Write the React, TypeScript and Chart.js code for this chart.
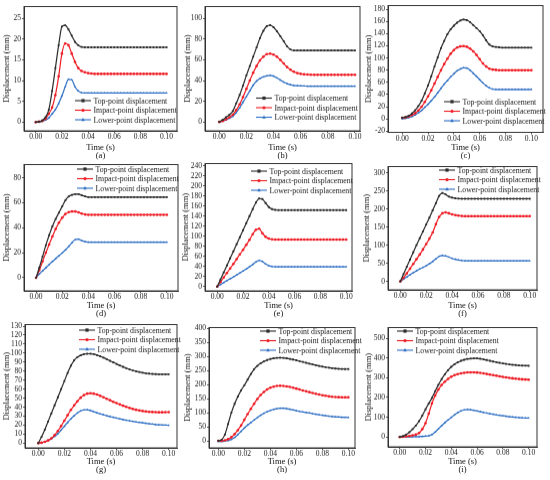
import React, { useEffect, useRef } from 'react';
import { Chart, registerables } from 'chart.js';

Chart.register(...registerables);

const FONT = '"Liberation Serif", "Times New Roman", serif';

// ---------- data ----------
const TIME = [
  0, 0.0025, 0.005, 0.0075, 0.01, 0.0125, 0.015, 0.0175, 0.02, 0.0225,
  0.025, 0.0275, 0.03, 0.0325, 0.035, 0.0375, 0.04, 0.0425, 0.045, 0.0475,
  0.05, 0.0525, 0.055, 0.0575, 0.06, 0.0625, 0.065, 0.0675, 0.07, 0.0725,
  0.075, 0.0775, 0.08, 0.0825, 0.085, 0.0875, 0.09, 0.0925, 0.095, 0.0975,
  0.1,
];

const SERIES_NAMES = ['Top-point displacement', 'Impact-point displacement', 'Lower-point displacement'];
const PANEL_LABELS = ['(a)', '(b)', '(c)', '(d)', '(e)', '(f)', '(g)', '(h)', '(i)'];
const X_TICKS = [0, 0.02, 0.04, 0.06, 0.08, 0.1];
const X_TITLE = 'Time (s)';
const Y_TITLE = 'Displacement (mm)';

const A_TOP = [
  0, 0.1, 0.4, 1.2, 3, 7.5, 13, 18.5, 23, 23.3,
  22.3, 20.8, 19.3, 18.5, 18.1, 18, 18, 18, 18, 18,
  18, 18, 18, 18, 18, 18, 18, 18, 18, 18,
  18, 18, 18, 18, 18, 18, 18, 18, 18, 18,
  18,
];
const A_IMPACT = [
  0, 0.1, 0.3, 0.8, 2, 3.5, 6.5, 11, 16.5, 18.9,
  18.5, 16.5, 14.5, 13, 12.3, 12, 11.8, 11.7, 11.6, 11.6,
  11.6, 11.6, 11.6, 11.6, 11.6, 11.6, 11.6, 11.6, 11.6, 11.6,
  11.6, 11.6, 11.6, 11.6, 11.6, 11.6, 11.6, 11.6, 11.6, 11.6,
  11.6,
];
const A_LOWER = [
  0, 0.1, 0.2, 0.5, 1, 2, 3, 4.5, 6.3, 8.5,
  10.3, 10.2, 8.5, 7.5, 7.1, 7, 7, 7, 7, 7,
  7, 7, 7, 7, 7, 7, 7, 7, 7, 7,
  7, 7, 7, 7, 7, 7, 7, 7, 7, 7,
  7,
];
const A_YTICKS = [0, 5, 10, 15, 20, 25];

const B_TOP = [
  0, 2, 4.5, 7, 10.5, 18, 26, 35, 45, 54,
  63, 72, 81, 88, 92.5, 93.5, 91.5, 87.5, 83, 78,
  73, 70, 69, 69, 69, 69, 69, 69, 69, 69,
  69, 69, 69, 69, 69, 69, 69, 69, 69, 69,
  69,
];
const B_IMPACT = [
  0, 1, 2.5, 4.5, 7, 11.5, 17, 24, 32, 40,
  47.5, 54, 59.5, 63, 65.5, 66, 65, 63, 60, 56.5,
  53, 50.5, 48.5, 47.2, 46.5, 46, 45.8, 45.6, 45.5, 45.5,
  45.5, 45.5, 45.5, 45.5, 45.5, 45.5, 45.5, 45.5, 45.5, 45.5,
  45.5,
];
const B_LOWER = [
  0, 0.8, 2, 3.5, 5.5, 9, 13.5, 19, 24.5, 30,
  35.5, 39.5, 42, 43.5, 44.5, 45, 44.3, 42.5, 40.5, 38.5,
  37, 36, 35.3, 35, 34.8, 34.7, 34.6, 34.6, 34.6, 34.6,
  34.6, 34.6, 34.6, 34.6, 34.6, 34.6, 34.6, 34.6, 34.6, 34.6,
  34.6,
];
const B_YTICKS = [0, 20, 40, 60, 80, 100];

const C_TOP = [
  2, 3, 5, 9, 14, 21, 30, 42, 55, 70,
  86, 101, 116, 128, 139, 147, 153, 158, 161.5, 163,
  162, 159, 154, 149, 144, 137, 129, 122, 119, 118,
  117.5, 117, 117, 117, 117, 117, 117, 117, 117, 117,
  117,
];
const C_IMPACT = [
  2, 2.5, 4, 6.5, 9.5, 14, 20, 28, 37, 47,
  58, 69, 80, 90, 99, 107, 113, 117, 119, 119.5,
  118.5, 115.5, 111, 105, 98, 91, 86, 82.5, 81, 80.5,
  80, 80, 80, 80, 80, 80, 80, 80, 80, 80,
  80,
];
const C_LOWER = [
  0, 1, 2, 4, 6.5, 10, 14, 19, 24, 30,
  36, 43, 50, 57, 63, 69, 74, 79, 82, 84,
  83.5, 80, 75, 70, 64.5, 59, 54.5, 51, 49, 48.5,
  48.5, 48.5, 48.5, 48.5, 48.5, 48.5, 48.5, 48.5, 48.5, 48.5,
  48.5,
];
const C_YTICKS = [-20, 0, 20, 40, 60, 80, 100, 120, 140, 160, 180];

const D_TOP = [
  0, 8, 17, 26, 34, 41, 47, 52, 57, 62,
  65, 66.3, 66.8, 66.8, 65.8, 65, 64.5, 64.5, 64.5, 64.5,
  64.5, 64.5, 64.5, 64.5, 64.5, 64.5, 64.5, 64.5, 64.5, 64.5,
  64.5, 64.5, 64.5, 64.5, 64.5, 64.5, 64.5, 64.5, 64.5, 64.5,
  64.5,
];
const D_IMPACT = [
  0, 6, 13, 20, 26.5, 33, 39, 44, 48, 51,
  52.5, 53, 53, 52.3, 51.3, 50.6, 50.3, 50.3, 50.3, 50.3,
  50.3, 50.3, 50.3, 50.3, 50.3, 50.3, 50.3, 50.3, 50.3, 50.3,
  50.3, 50.3, 50.3, 50.3, 50.3, 50.3, 50.3, 50.3, 50.3, 50.3,
  50.3,
];
const D_LOWER = [
  0, 3, 5.5, 8, 10.5, 13, 15.3, 17.5, 19.8, 22.3,
  25, 28, 30.5, 30.8, 29.6, 28.8, 28.5, 28.5, 28.5, 28.5,
  28.5, 28.5, 28.5, 28.5, 28.5, 28.5, 28.5, 28.5, 28.5, 28.5,
  28.5, 28.5, 28.5, 28.5, 28.5, 28.5, 28.5, 28.5, 28.5, 28.5,
  28.5,
];
const D_YTICKS = [0, 20, 40, 60, 80];

const E_TOP = [
  0, 14, 28, 42, 56, 70, 84, 98, 112, 126,
  140, 154, 167, 175, 174, 166, 158, 154, 152.5, 152,
  152, 152, 152, 152, 152, 152, 152, 152, 152, 152,
  152, 152, 152, 152, 152, 152, 152, 152, 152, 152,
  152,
];
const E_IMPACT = [
  0, 9, 18, 27, 36, 45, 54.5, 64, 73, 83,
  93, 104, 113, 115, 106, 99, 95.5, 94, 93.5, 93.5,
  93.5, 93.5, 93.5, 93.5, 93.5, 93.5, 93.5, 93.5, 93.5, 93.5,
  93.5, 93.5, 93.5, 93.5, 93.5, 93.5, 93.5, 93.5, 93.5, 93.5,
  93.5,
];
const E_LOWER = [
  0, 4, 8, 12, 15.5, 19, 23, 27, 31, 35,
  39.5, 44, 49, 52, 50, 45, 41.5, 40, 39.3, 39.2,
  39.2, 39.2, 39.2, 39.2, 39.2, 39.2, 39.2, 39.2, 39.2, 39.2,
  39.2, 39.2, 39.2, 39.2, 39.2, 39.2, 39.2, 39.2, 39.2, 39.2,
  39.2,
];
const E_YTICKS = [0, 20, 40, 60, 80, 100, 120, 140, 160, 180, 200, 220, 240];

const F_TOP = [
  0, 20, 40, 60, 80, 100, 119, 138, 157, 176,
  196, 216, 236, 244, 240, 234, 231, 229.5, 228.5, 228,
  228, 228, 228, 228, 228, 228, 228, 228, 228, 228,
  228, 228, 228, 228, 228, 228, 228, 228, 228, 228,
  228,
];
const F_IMPACT = [
  0, 10, 22, 35, 48, 61, 74, 88, 103, 118,
  135, 158, 178, 188, 190.5, 188, 185, 183, 181.5, 180.5,
  180, 180, 180, 180, 180, 180, 180, 180, 180, 180,
  180, 180, 180, 180, 180, 180, 180, 180, 180, 180,
  180,
];
const F_LOWER = [
  0, 6, 12, 18, 24, 29, 34, 38.5, 43, 48.5,
  55, 62, 69, 71.5, 70, 67, 63.5, 61, 59, 57.8,
  57, 56.5, 56.5, 56.5, 56.5, 56.5, 56.5, 56.5, 56.5, 56.5,
  56.5, 56.5, 56.5, 56.5, 56.5, 56.5, 56.5, 56.5, 56.5, 56.5,
  56.5,
];
const F_YTICKS = [0, 50, 100, 150, 200, 250, 300];

const G_TOP = [
  0, 7, 15, 24, 33, 42, 51, 60, 69, 78,
  86, 92, 95.5, 97.5, 98.8, 99.3, 99.3, 98.8, 97.8, 96.5,
  95, 93.3, 91.5, 89.8, 88, 86.3, 84.8, 83.3, 82, 80.8,
  79.8, 79, 78.2, 77.6, 77.2, 76.9, 76.7, 76.6, 76.5, 76.5,
  76.5,
];
const G_IMPACT = [
  0, 0.5, 1.5, 3, 5.5, 9, 13.5, 19, 25, 31,
  37, 42, 46.5, 50.5, 53.3, 55, 55.5, 55, 54, 52.5,
  51, 49.3, 47.7, 46, 44.5, 43, 41.6, 40.3, 39.1, 38,
  37.1, 36.3, 35.7, 35.2, 34.8, 34.6, 34.4, 34.3, 34.3, 34.4,
  34.5,
];
const G_LOWER = [
  0, 0.5, 1.5, 3, 5, 7.5, 10.5, 14.5, 18.8, 23,
  27, 30.5, 33.5, 35.8, 37, 37.2, 36.3, 35, 33.7, 32.5,
  31.5, 30.5, 29.6, 28.7, 27.8, 27, 26.2, 25.5, 24.8, 24.2,
  23.6, 23.1, 22.6, 22.1, 21.6, 21.1, 20.7, 20.4, 20.2, 20,
  19.9,
];
const G_YTICKS = [0, 10, 20, 30, 40, 50, 60, 70, 80, 90, 100, 110, 120, 130];

const H_TOP = [
  0, 4, 22, 60, 100, 132, 158, 180, 198, 218,
  238, 255, 267, 276, 283, 288, 291.5, 294, 295.5, 296,
  295.5, 294, 292, 289.5, 287, 284, 281, 278, 275, 272,
  269.5, 267, 264.5, 262.5, 260.5, 259, 257.5, 256.5, 256, 255.5,
  255.5,
];
const H_IMPACT = [
  0, 0.5, 2, 6, 13, 24, 38, 55, 75, 95,
  114, 132, 149, 163, 174, 183, 189, 193, 195.5, 196,
  195.5, 194, 192, 189, 186, 183, 179.5, 176.5, 173.5, 170.5,
  167.5, 165, 162.5, 160.5, 158.5, 157, 156, 155.5, 155, 155,
  155,
];
const H_LOWER = [
  -2, -2, -1, 1, 5, 12, 22, 34, 46, 56,
  65, 74, 83, 91, 98, 104, 108.5, 112, 114.5, 116,
  116, 114.5, 112.5, 110, 107.5, 105, 103, 101, 99, 97,
  95, 93, 91, 89.5, 88, 86.7, 85.5, 84.7, 84, 83.7,
  83.5,
];
const H_YTICKS = [0, 50, 100, 150, 200, 250, 300, 350, 400];

const I_TOP = [
  0, 4, 12, 24, 40, 58, 80, 108, 140, 170,
  198, 232, 264, 293, 318, 338, 355, 368, 378, 386,
  391, 395, 397, 398, 397.5, 396, 393, 389.5, 386, 382,
  378.5, 375.5, 372.5, 370, 367.5, 365.5, 364, 362.5, 361.5, 361,
  360.5,
];
const I_IMPACT = [
  0, 1, 3, 5, 8, 12, 20, 40, 70, 118,
  170, 210, 240, 263, 280, 294, 305, 313, 318, 322,
  325, 327, 327.5, 327.5, 326.5, 324.5, 322, 319, 316, 313,
  310, 307, 304, 301.5, 299, 297, 295, 293.5, 292, 291,
  290.5,
];
const I_LOWER = [
  0, 0, 0, 0.5, 1, 1.5, 2, 3, 4, 6,
  12, 25, 41, 57, 72, 86, 99, 112, 123, 132,
  137.5, 139.5, 138, 135, 131.5, 128, 124.5, 121, 118, 115,
  112, 109.5, 107, 105, 103, 101, 99.5, 98, 97, 96,
  95.5,
];
const I_YTICKS = [0, 100, 200, 300, 400, 500];

// ---------- styles / layout ----------
const COLORS = ['#2b2b2b', '#ee1c24', '#2f6fc4'];
const MARKERS = ['rect', 'circle', 'triangle'];

type Rect = { left: number; top: number; right: number; bottom: number };
type PanelCfg = {
  label: string;
  series: number[][];
  yTicks: number[];
  yRange: [number, number];
  xRange: [number, number];
  cell: Rect;
  plot: Rect;
  legend: { x: number; y: number };
};

const PANELS: PanelCfg[] = [
  { label: PANEL_LABELS[0], series: [A_TOP, A_IMPACT, A_LOWER], yTicks: A_YTICKS, yRange: [-2.1, 27.8], xRange: [-0.009, 0.108],
    cell: { left: 2, top: 1, right: 192, bottom: 159.5 }, plot: { left: 24, top: 4, right: 177, bottom: 130 }, legend: { x: 75, y: 100 } },
  { label: PANEL_LABELS[1], series: [B_TOP, B_IMPACT, B_LOWER], yTicks: B_YTICKS, yRange: [-8.6, 111.5], xRange: [-0.0105, 0.1037],
    cell: { left: 183, top: 1, right: 372, bottom: 159.5 }, plot: { left: 205, top: 4, right: 360, bottom: 130 }, legend: { x: 256, y: 97.5 } },
  { label: PANEL_LABELS[2], series: [C_TOP, C_IMPACT, C_LOWER], yTicks: C_YTICKS, yRange: [-22, 186], xRange: [-0.011, 0.109],
    cell: { left: 364, top: 0, right: 550, bottom: 159.5 }, plot: { left: 388, top: 3, right: 543, bottom: 131.5 }, legend: { x: 444, y: 101 } },
  { label: PANEL_LABELS[3], series: [D_TOP, D_IMPACT, D_LOWER], yTicks: D_YTICKS, yRange: [-10.5, 90.5], xRange: [-0.0092, 0.1085],
    cell: { left: 2, top: 159, right: 192, bottom: 317.5 }, plot: { left: 24, top: 162, right: 178, bottom: 290 }, legend: { x: 77, y: 169 } },
  { label: PANEL_LABELS[4], series: [E_TOP, E_IMPACT, E_LOWER], yTicks: E_YTICKS, yRange: [-8.5, 244.5], xRange: [-0.0095, 0.1045],
    cell: { left: 181, top: 158, right: 366, bottom: 317.5 }, plot: { left: 205, top: 161, right: 352, bottom: 290 }, legend: { x: 251, y: 171 } },
  { label: PANEL_LABELS[5], series: [F_TOP, F_IMPACT, F_LOWER], yTicks: F_YTICKS, yRange: [-23.5, 317], xRange: [-0.0095, 0.1056],
    cell: { left: 362, top: 161, right: 550, bottom: 317.5 }, plot: { left: 388, top: 164, right: 537, bottom: 289 }, legend: { x: 439, y: 170 } },
  { label: PANEL_LABELS[6], series: [G_TOP, G_IMPACT, G_LOWER], yTicks: G_YTICKS, yRange: [-5.2, 131.7], xRange: [-0.0102, 0.1064],
    cell: { left: 2, top: 319, right: 192, bottom: 473.5 }, plot: { left: 25, top: 322, right: 177, bottom: 447 }, legend: { x: 79, y: 330 } },
  { label: PANEL_LABELS[7], series: [H_TOP, H_IMPACT, H_LOWER], yTicks: H_YTICKS, yRange: [-25, 403.5], xRange: [-0.0072, 0.1051],
    cell: { left: 183, top: 322, right: 370, bottom: 473.5 }, plot: { left: 209, top: 325, right: 355, bottom: 447 }, legend: { x: 260, y: 331 } },
  { label: PANEL_LABELS[8], series: [I_TOP, I_IMPACT, I_LOWER], yTicks: I_YTICKS, yRange: [-50, 554], xRange: [-0.0091, 0.1065],
    cell: { left: 364, top: 322, right: 550, bottom: 473.5 }, plot: { left: 388, top: 325, right: 537, bottom: 446 }, legend: { x: 397, y: 331 } },
];

function drawMarker(ctx: CanvasRenderingContext2D, style: string, x: number, y: number, r: number, color: string) {
  ctx.fillStyle = color;
  ctx.beginPath();
  if (style === 'rect') {
    ctx.rect(x - r, y - r, 2 * r, 2 * r);
  } else if (style === 'circle') {
    ctx.arc(x, y, r, 0, Math.PI * 2);
  } else {
    ctx.moveTo(x, y - r * 1.2);
    ctx.lineTo(x + r * 1.1, y + r * 0.8);
    ctx.lineTo(x - r * 1.1, y + r * 0.8);
    ctx.closePath();
  }
  ctx.fill();
}

function makePlugin(p: PanelCfg) {
  return {
    id: 'frameLegend',
    afterDraw(chart: any) {
      const { ctx, chartArea: ca } = chart;
      ctx.save();
      ctx.strokeStyle = '#333';
      ctx.lineWidth = 1;
      ctx.strokeRect(ca.left, ca.top, ca.right - ca.left, ca.bottom - ca.top);
      const x0 = p.legend.x - p.cell.left;
      let y = p.legend.y - p.cell.top;
      chart.data.datasets.forEach((ds: any, i: number) => {
        ctx.strokeStyle = COLORS[i];
        ctx.lineWidth = 1.1;
        ctx.beginPath();
        ctx.moveTo(x0, y);
        ctx.lineTo(x0 + 16, y);
        ctx.stroke();
        drawMarker(ctx, MARKERS[i], x0 + 8, y, 1.6, COLORS[i]);
        ctx.fillStyle = '#1a1a1a';
        ctx.font = `7.8px ${FONT}`;
        ctx.textBaseline = 'middle';
        ctx.textAlign = 'left';
        ctx.fillText(ds.label, x0 + 18.5, y + 0.5);
        y += 9.5;
      });
      ctx.restore();
    },
  };
}

function Panel({ p }: { p: PanelCfg }) {
  const ref = useRef<HTMLCanvasElement>(null);
  useEffect(() => {
    const canvas = ref.current;
    if (!canvas) return;
    const chart = new Chart(canvas, {
      type: 'line',
      data: {
        datasets: p.series.map((s, i) => ({
          label: SERIES_NAMES[i],
          data: TIME.map((t, k) => ({ x: t, y: s[k] })),
          borderColor: COLORS[i],
          backgroundColor: COLORS[i],
          borderWidth: 1.2,
          pointStyle: MARKERS[i] as any,
          pointRadius: 1.3,
          pointBorderWidth: 0,
          pointBackgroundColor: COLORS[i],
          pointHoverRadius: 0,
          cubicInterpolationMode: 'monotone' as const,
          fill: false,
        })),
      },
      options: {
        animation: false,
        responsive: true,
        maintainAspectRatio: false,
        events: [],
        layout: {
          padding: {
            left: 0,
            top: p.plot.top - p.cell.top,
            right: p.cell.right - p.plot.right,
            bottom: 0,
          },
        },
        plugins: { legend: { display: false }, tooltip: { enabled: false }, title: { display: false } },
        scales: {
          x: {
            type: 'linear',
            min: p.xRange[0],
            max: p.xRange[1],
            afterBuildTicks: (axis: any) => {
              axis.ticks = X_TICKS.map((v) => ({ value: v }));
            },
            afterFit: (axis: any) => {
              axis.height = p.cell.bottom - p.plot.bottom;
            },
            ticks: {
              autoSkip: false,
              maxRotation: 0,
              minRotation: 0,
              padding: 0,
              color: '#222',
              font: { family: FONT, size: 7.5 },
              callback: (v: any) => Number(v).toFixed(2),
            },
            grid: { drawOnChartArea: false, drawTicks: true, tickLength: 2, color: '#333', lineWidth: 0.8 },
            border: { display: true, color: '#333', width: 1 },
            title: {
              display: true,
              text: [X_TITLE, p.label],
              color: '#111',
              font: { family: FONT, size: 8.5, lineHeight: 1.0 },
              padding: { top: 0, bottom: 0 },
            },
          },
          y: {
            type: 'linear',
            min: p.yRange[0],
            max: p.yRange[1],
            afterBuildTicks: (axis: any) => {
              axis.ticks = p.yTicks.map((v) => ({ value: v }));
            },
            afterFit: (axis: any) => {
              axis.width = p.plot.left - p.cell.left;
            },
            ticks: {
              autoSkip: false,
              padding: 1,
              color: '#222',
              font: { family: FONT, size: 7.5 },
              callback: (v: any) => String(v),
            },
            grid: { drawOnChartArea: false, drawTicks: true, tickLength: 2, color: '#333', lineWidth: 0.8 },
            border: { display: true, color: '#333', width: 1 },
            title: {
              display: true,
              text: Y_TITLE,
              color: '#111',
              font: { family: FONT, size: 8.5 },
              padding: { top: 0, bottom: 0 },
            },
          },
        },
      },
      plugins: [makePlugin(p)],
    } as any);
    return () => chart.destroy();
  }, [p]);
  return (
    <div
      style={{
        position: 'absolute',
        left: p.cell.left,
        top: p.cell.top,
        width: p.cell.right - p.cell.left,
        height: p.cell.bottom - p.cell.top,
      }}
    >
      <canvas ref={ref} />
    </div>
  );
}

export default function App() {
  return (
    <div style={{ position: 'absolute', left: 0, top: 0, width: 550, height: 480, background: '#fff', overflow: 'hidden' }}>
      {PANELS.map((p) => (
        <Panel key={p.label} p={p} />
      ))}
    </div>
  );
}
